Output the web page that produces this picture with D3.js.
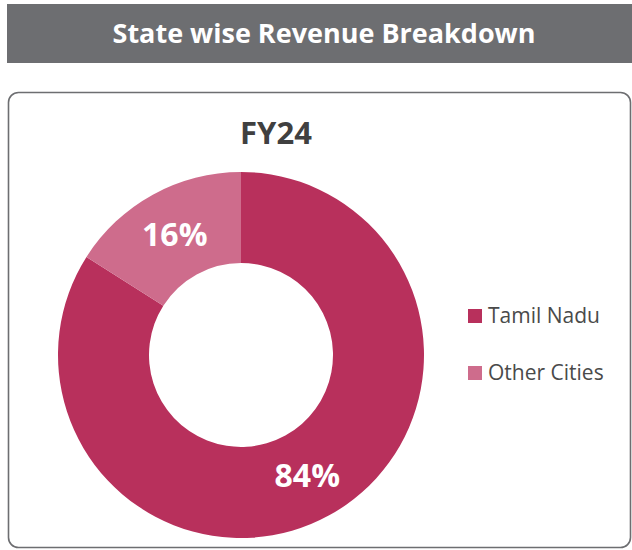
<!DOCTYPE html>
<html>
<head>
<meta charset="utf-8">
<script src="https://cdn.jsdelivr.net/npm/d3@7"></script>
<style>
  body { margin: 0; background: #fff; }
  svg { display: block; font-family: "Open Sans", sans-serif; }
</style>
</head>
<body>
<div id="chart"></div>
<script>
// data
var categories = ["Tamil Nadu", "Other Cities"];
var shares = [84, 16];
var colors = ["#b8305c", "#ce6c8c"];
var chartTitle = "State wise Revenue Breakdown";
var yearLabel = "FY24";

var width = 632, height = 550;
var svg = d3.select("#chart").append("svg")
    .attr("width", width)
    .attr("height", height);

// header banner
svg.append("rect")
    .attr("x", 7).attr("y", 4)
    .attr("width", width - 7).attr("height", 59)
    .attr("fill", "#6d6e71");
svg.append("text")
    .attr("x", 324).attr("y", 43)
    .attr("text-anchor", "middle")
    .attr("fill", "#fff")
    .style("font-size", "27px")
    .style("font-weight", "bold")
    .text(chartTitle);

// card outline
svg.append("rect")
    .attr("x", 8.5).attr("y", 92.5)
    .attr("width", 622).attr("height", 455)
    .attr("rx", 10).attr("ry", 10)
    .attr("fill", "none")
    .attr("stroke", "#6d6e71")
    .attr("stroke-width", 1.6);

svg.append("text")
    .attr("x", 276).attr("y", 144)
    .attr("text-anchor", "middle")
    .attr("fill", "#404040")
    .style("font-size", "31px")
    .style("font-weight", "bold")
    .text(yearLabel);

// donut
var cx = 241, cy = 355;
var outerR = 183, innerR = 92;

var data = categories.map(function (c, i) { return { label: c, value: shares[i] }; });
var color = d3.scaleOrdinal().domain(categories).range(colors);
var pie = d3.pie().value(function (d) { return d.value; }).sort(null);
var arc = d3.arc().innerRadius(innerR).outerRadius(outerR);

var g = svg.append("g").attr("transform", "translate(" + cx + "," + cy + ")");
var slices = g.selectAll(".arc")
    .data(pie(data))
    .enter().append("g")
    .attr("class", "arc");

slices.append("path")
    .attr("d", arc)
    .attr("fill", function (d) { return color(d.data.label); });

slices.append("text")
    .attr("transform", function (d) { return "translate(" + arc.centroid(d) + ")"; })
    .attr("text-anchor", "middle")
    .attr("dy", "0.36em")
    .attr("fill", "#fff")
    .style("font-size", "32px")
    .style("font-weight", "bold")
    .text(function (d) { return d.data.value + "%"; });

// legend
var legendY = d3.scalePoint().domain(categories).range([316, 373]);
var legend = svg.selectAll(".legend")
    .data(categories)
    .enter().append("g")
    .attr("class", "legend")
    .attr("transform", function (d) { return "translate(468," + legendY(d) + ")"; });

legend.append("rect")
    .attr("x", 0).attr("y", -7)
    .attr("width", 14).attr("height", 14)
    .attr("fill", function (d) { return color(d); });

legend.append("text")
    .attr("x", 20).attr("y", 7)
    .attr("fill", "#4a4a4a")
    .style("font-size", "21px")
    .text(function (d) { return d; });
</script>
</body>
</html>
